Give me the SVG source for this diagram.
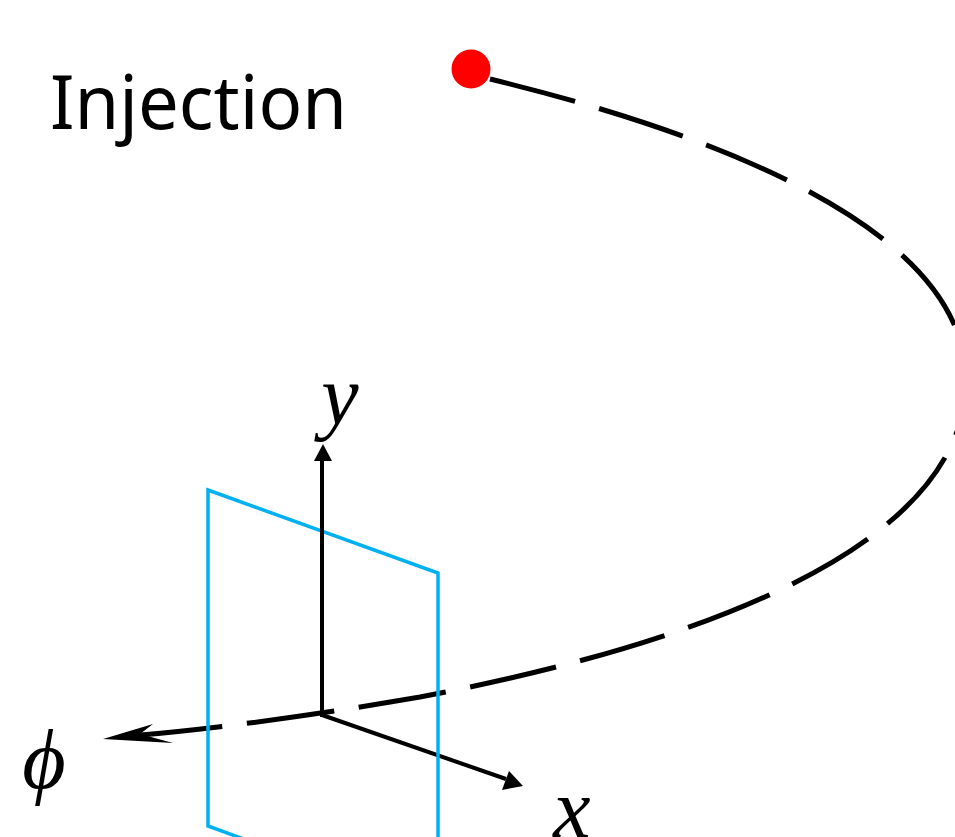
<svg xmlns="http://www.w3.org/2000/svg" width="955" height="837" viewBox="0 0 955 837">
<style>
.lbl{font-family:"Liberation Serif","DejaVu Serif",serif;font-style:italic;font-size:84px;fill:#000}
.axis{stroke:#000;stroke-width:4;fill:none}
</style>
<rect width="955" height="837" fill="#fff"/>
<g id="connectors">
<path id="orbit" d="M 490 79 C 720 135, 966 230, 966 380 C 966 540, 720 640, 420 697 C 300 718, 200 730, 130 736" fill="none" stroke="#000" stroke-width="5" stroke-dasharray="88 25"/>
<polygon points="103,739 153,724 140,734 173,743" fill="#000"/>
<line class="axis" x1="322" y1="715" x2="506" y2="779"/>
<polygon points="523,786 502,790 509,771" fill="#000"/>
</g>
<g id="plane">
<polygon points="208,490 438,573 438,910 208,826" fill="none" stroke="#00B0F0" stroke-width="3.5"/>
</g>
<g id="yaxis">
<line class="axis" x1="322" y1="717" x2="322" y2="458"/>
<polygon points="323,444 314,461 332,461" fill="#000"/>
</g>
<g id="injection-point">
<circle cx="471" cy="69" r="19.5" fill="#f00"/>
</g>
<g id="labels">
<text x="50" y="129" font-family="'Noto Sans','Open Sans',sans-serif" font-size="74" textLength="297" lengthAdjust="spacingAndGlyphs">Injection</text>
<text class="lbl" x="340" y="424" text-anchor="middle">y</text>
<text class="lbl" x="572" y="837" text-anchor="middle">x</text>
<text class="lbl" x="44" y="788" text-anchor="middle">ϕ</text>
</g>
</svg>
